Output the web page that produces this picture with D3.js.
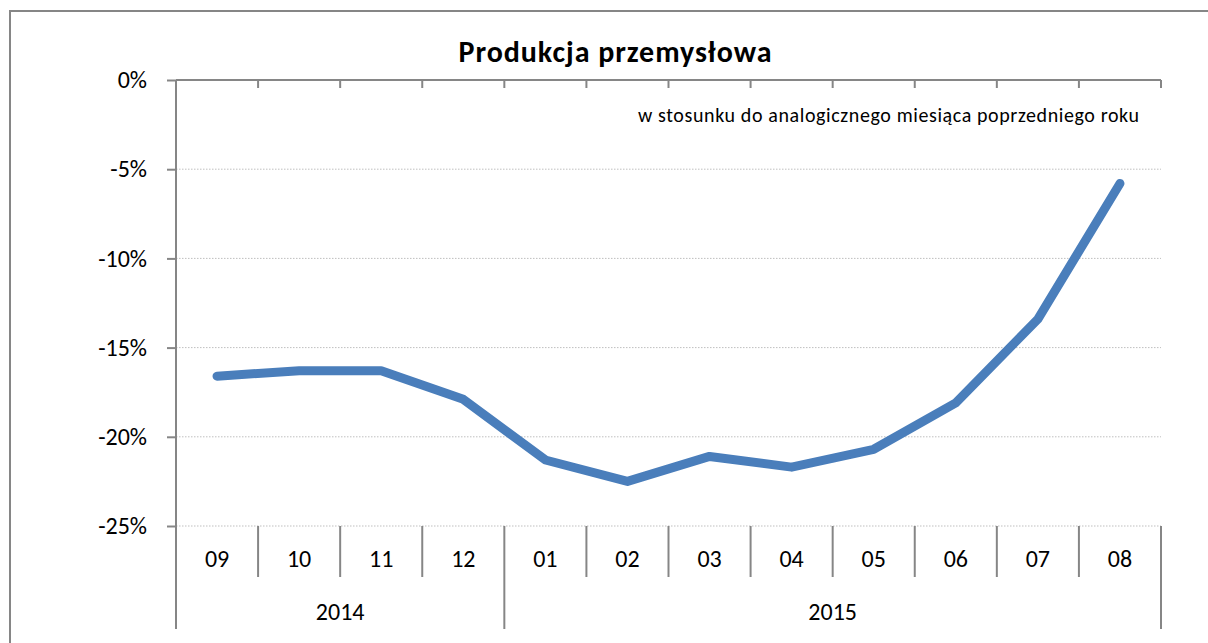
<!DOCTYPE html>
<html>
<head>
<meta charset="utf-8">
<script src="https://cdn.jsdelivr.net/npm/d3@7"></script>
<style>
  body { margin: 0; background: #fff; }
  svg { display: block; font-family: Carlito, Calibri, Lato, "Open Sans", sans-serif; }
  .grid line { stroke: #bfbfbf; stroke-dasharray: 1.5 1.5; }
  .ax { stroke: #868686; stroke-width: 2; fill: none; }
</style>
</head>
<body>
<div id="chart"></div>
<script>
// dane: produkcja przemysłowa r/r
const months = ["09", "10", "11", "12", "01", "02", "03", "04", "05", "06", "07", "08"];
const years = [{ label: "2014", from: 0, to: 4 }, { label: "2015", from: 4, to: 12 }];
const values = [-16.6, -16.3, -16.3, -17.9, -21.3, -22.5, -21.1, -21.7, -20.7, -18.1, -13.4, -5.8];
const yTicks = [0, -5, -10, -15, -20, -25];

const W = 1208, H = 643;
const M = { left: 176, right: 1161, top: 80, bottom: 526 };

const svg = d3.select("#chart").append("svg").attr("width", W).attr("height", H);

// ramka wykresu (prawa i dolna krawędź poza kadrem)
svg.append("path").attr("class", "ax").attr("d", `M10,${H + 5}V11H${W + 5}`).attr("stroke", "#8c8c8c");

const x = d3.scaleBand().domain(d3.range(12)).range([M.left, M.right]);
const y = d3.scaleLinear().domain([-25, 0]).range([M.bottom, M.top]);

// siatka
svg.append("g").attr("class", "grid").selectAll("line").data(yTicks.filter((d) => d < 0)).join("line")
  .attr("x1", M.left).attr("x2", M.right).attr("y1", (d) => y(d)).attr("y2", (d) => y(d));

// oś Y
const gy = svg.append("g").attr("transform", `translate(${M.left},0)`)
  .call(d3.axisLeft(y).tickValues(yTicks).tickSize(9).tickPadding(20).tickFormat((d) => d + "%"))
  .attr("font-family", null).attr("font-size", null);
gy.select(".domain").remove();
gy.selectAll(".tick line").attr("stroke", "#868686").attr("stroke-width", 2);
gy.selectAll(".tick text").attr("font-size", 24).attr("fill", "#000");
svg.append("line").attr("class", "ax").attr("x1", M.left).attr("x2", M.left).attr("y1", M.top).attr("y2", 629);

// górna oś kategorii
const bounds = d3.range(13).map((i) => (i < 12 ? x(i) : M.right));
svg.append("line").attr("class", "ax").attr("x1", M.left).attr("x2", M.right).attr("y1", M.top).attr("y2", M.top);
svg.append("g").selectAll("line").data(bounds.slice(1)).join("line").attr("class", "ax")
  .attr("x1", (d) => d).attr("x2", (d) => d).attr("y1", M.top).attr("y2", M.top + 8);

// etykiety kategorii na dole (dwupoziomowe)
const yearEdges = new Set(years.map((d) => d.to));
svg.append("g").selectAll("line").data(d3.range(1, 13)).join("line").attr("class", "ax")
  .attr("x1", (i) => bounds[i]).attr("x2", (i) => bounds[i])
  .attr("y1", M.bottom).attr("y2", (i) => (yearEdges.has(i) ? 629 : 577));

svg.append("g").selectAll("text").data(months).join("text")
  .attr("x", (d, i) => x(i) + x.bandwidth() / 2).attr("y", 567)
  .attr("text-anchor", "middle").attr("font-size", 24).text((d) => d);

svg.append("g").selectAll("text").data(years).join("text")
  .attr("x", (d) => (bounds[d.from] + bounds[d.to]) / 2).attr("y", 620)
  .attr("text-anchor", "middle").attr("font-size", 24).text((d) => d.label);

// linia
svg.append("path").datum(values)
  .attr("d", d3.line().x((d, i) => x(i) + x.bandwidth() / 2).y((d) => y(d)))
  .attr("fill", "none").attr("stroke", "#4a7ebb").attr("stroke-width", 9)
  .attr("stroke-linecap", "round").attr("stroke-linejoin", "round");

// tytuły
svg.append("text").attr("x", 615).attr("y", 62).attr("text-anchor", "middle")
  .attr("font-size", 30).attr("font-weight", "bold")
  .attr("textLength", 313).text("Produkcja przemysłowa");
svg.append("text").attr("x", 1139).attr("y", 122).attr("text-anchor", "end")
  .attr("font-size", 20).attr("textLength", 501).text("w stosunku do analogicznego miesiąca poprzedniego roku");
</script>
</body>
</html>
